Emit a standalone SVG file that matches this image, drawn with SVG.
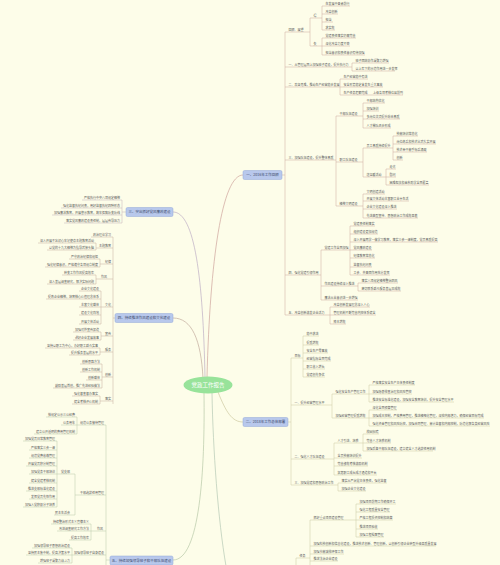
<svg xmlns="http://www.w3.org/2000/svg" width="500" height="565" viewBox="0 0 500 565">
<style>
text{font-family:"Noto Sans CJK SC","Noto Sans",sans-serif;font-size:3px;fill:#5a5a5a}
.n path{fill:none;stroke-width:.5}
.L text{text-anchor:end}
.s1 path{stroke:#cfa99c}.s2 path{stroke:#cdc8a0}.s3 path{stroke:#c2b3b8}.s4 path{stroke:#c6ac9c}.s5 path{stroke:#b8c8a8}.s6 path{stroke:#c8c8a0}
.c path{fill:none;stroke-width:.5}
.cv path{fill:none;stroke-width:.7}
.box rect{fill:#b8c8ec;stroke:#92a8d8;stroke-width:.5}
.box text{font-size:3.5px;fill:#3c4a6a;text-anchor:middle}
</style>
<rect width="500" height="565" fill="#fdfde9"/>

<g id="connectors">
<g class="cv">
<path d="M207 377C210 260 222 175 243 175" stroke="#cfa49c"/>
<path d="M205 377C203 280 195 212 173 212" stroke="#bdaec4"/>
<path d="M203 378C201 340 192 318 173 318" stroke="#c2aa9c"/>
<path d="M218 392C226 412 232 422 243 422" stroke="#cdc8a0"/>
<path d="M204 393C205 470 200 560 173 560" stroke="#b8c8a8"/>
<path d="M212 393C213 450 218 520 226 566" stroke="#b4c8b4"/>
</g>
<g class="c s1">
<path d="M282 175H285M285 32V315"/>
<path d="M310 18V46M322 6V30M322 38V55M352 63V71M340 79V95"/>
<path d="M336 116V206M363 103V128M363 148V177M393 136V160M386 169V185M363 194V218"/>
<path d="M321 250V300M350 226V275M358 283V291M330 307V324"/>
</g>
<g class="c s2">
<path d="M288 422H291M291 358V485"/>
<path d="M303 336V377M332 394V418M369 385V402M369 410V426M334 443V475M363 434V451M338 483V491"/>
</g>
<g class="c s6">
<path d="M296 558V566M310 520V566M356 504V537"/>
</g>
<g class="c s3">
<path d="M126 212H122M122 200V223"/>
</g>
<g class="c s4">
<path d="M115 318H113M113 237V404"/>
<path d="M96 243V250M100 259V267M96 275V284M101 291V324M101 332V340M100 348V355M102 364V388M100 396V404"/>
</g>
<g class="c s5">
<path d="M110 560H106M106 425V566"/>
<path d="M77 417V434M75 474V515M57 441V507M91 524V540M72 548V563"/>
</g>
</g>

<g id="center">
<ellipse cx="208" cy="385" rx="24.5" ry="8.5" fill="#98e39a"/>
<text x="208" y="387" style="font-size:5.5px;fill:#fff;text-anchor:middle">党政工作报告</text>
</g>

<g id="sec1" class="box"><rect x="243" y="170.5" width="39" height="9" rx="1.5"/><text x="262.5" y="176.3">一、2016年工作回顾</text></g>
<g id="sec2" class="box"><rect x="243" y="417.5" width="45" height="9" rx="1.5"/><text x="265.5" y="423.3">二、2018年工作总体部署</text></g>
<g id="sec3" class="box"><rect x="126" y="207.5" width="47" height="9" rx="1.5"/><text x="149.5" y="213.3">三、突出抓好党风廉政建设</text></g>
<g id="sec4" class="box"><rect x="115" y="313.5" width="58" height="9" rx="1.5"/><text x="144" y="319.3">四、持续推进作风建设和文化建设</text></g>
<g id="sec5" class="box"><rect x="110" y="556" width="63" height="9" rx="1.5"/><text x="141.5" y="561.8">五、持续加强领导班子和干部队伍建设</text></g>

<g class="n s1">
<g id="a" transform="translate(285,32)"><path d="M0 0H25"/><text x="3.5" y="-1.1">回顾、展望</text></g>
<g id="a1" transform="translate(310,18)"><path d="M0 0H12"/><text x="3.5" y="-1.1">得</text></g>
<g id="a11" transform="translate(322,6)"><path d="M0 0H28"/><text x="3.5" y="-1.1">在发展中奋勇前行</text></g>
<g id="a12" transform="translate(322,14)"><path d="M0 0H16"/><text x="3.5" y="-1.1">改革创新</text></g>
<g id="a13" transform="translate(322,22)"><path d="M0 0H11"/><text x="3.5" y="-1.1">担当</text></g>
<g id="a14" transform="translate(322,30)"><path d="M0 0H13"/><text x="3.5" y="-1.1">求实效</text></g>
<g id="a2" transform="translate(310,46)"><path d="M0 0H12"/><text x="3.5" y="-1.1">失</text></g>
<g id="a21" transform="translate(322,38)"><path d="M0 0H34"/><text x="3.5" y="-1.1">党建责任落实仍需完善</text></g>
<g id="a22" transform="translate(322,46)"><path d="M0 0H28"/><text x="3.5" y="-1.1">深化改革力度不够</text></g>
<g id="a23" transform="translate(322,55)"><path d="M0 0H43"/><text x="3.5" y="-1.1">担当意识和责任意识有待加强</text></g>
<g id="b" transform="translate(285,67)"><path d="M0 0H67"/><text x="3.5" y="-1.1">一、从管理层面上加强班子建设，提升执行力</text></g>
<g id="b1" transform="translate(352,63)"><path d="M0 0H37"/><text x="3.5" y="-1.1">班子团结协作凝聚力增强</text></g>
<g id="b2" transform="translate(352,71)"><path d="M0 0H43"/><text x="3.5" y="-1.1">以上率下的示范作用进一步发挥</text></g>
<g id="c" transform="translate(285,87)"><path d="M0 0H55"/><text x="3.5" y="-1.1">二、攻坚克难，推动生产经营稳步发展</text></g>
<g id="c1" transform="translate(340,79)"><path d="M0 0H28"/><text x="3.5" y="-1.1">生产经营稳中有进</text></g>
<g id="c2" transform="translate(340,87)"><path d="M0 0H43"/><text x="3.5" y="-1.1">安全形势稳定未发生重大事故</text></g>
<g id="c3" transform="translate(340,95)"><path d="M0 0H63"/><text x="3.5" y="-1.1">生产任务超额完成</text><text x="33" y="-1.1">上级各项考核位居前列</text></g>
<g id="d" transform="translate(285,160)"><path d="M0 0H51"/><text x="3.5" y="-1.1">三、加强队伍建设，提升整体素质</text></g>
<g id="d1" transform="translate(336,116)"><path d="M0 0H27"/><text x="3.5" y="-1.1">干部队伍建设</text></g>
<g id="d11" transform="translate(363,103)"><path d="M0 0H22"/><text x="3.5" y="-1.1">干部结构优化</text></g>
<g id="d12" transform="translate(363,111)"><path d="M0 0H16"/><text x="3.5" y="-1.1">加强培训</text></g>
<g id="d13" transform="translate(363,119)"><path d="M0 0H37"/><text x="3.5" y="-1.1">多岗位交流提升综合素质</text></g>
<g id="d14" transform="translate(363,128)"><path d="M0 0H28"/><text x="3.5" y="-1.1">人才梯队逐步形成</text></g>
<g id="d2" transform="translate(336,162)"><path d="M0 0H27"/><text x="3.5" y="-1.1">职工队伍建设</text></g>
<g id="d2a" transform="translate(363,148)"><path d="M0 0H30"/><text x="3.5" y="-1.1">员工素质持续提升</text></g>
<g id="d2a1" transform="translate(393,136)"><path d="M0 0H25"/><text x="3.5" y="-1.1">技能培训常态化</text></g>
<g id="d2a2" transform="translate(393,144)"><path d="M0 0H43"/><text x="3.5" y="-1.1">岗位练兵和技术比武扎实开展</text></g>
<g id="d2a3" transform="translate(393,152)"><path d="M0 0H34"/><text x="3.5" y="-1.1">技术骨干能手标兵涌现</text></g>
<g id="d2a4" transform="translate(393,160)"><path d="M0 0H10"/><text x="3.5" y="-1.1">创新</text></g>
<g id="d2b" transform="translate(363,177)"><path d="M0 0H23"/><text x="3.5" y="-1.1">送温暖活动</text></g>
<g id="d2b1" transform="translate(386,169)"><path d="M0 0H10"/><text x="3.5" y="-1.1">走访</text></g>
<g id="d2b2" transform="translate(386,177)"><path d="M0 0H10"/><text x="3.5" y="-1.1">慰问</text></g>
<g id="d2b3" transform="translate(386,185)"><path d="M0 0H43"/><text x="3.5" y="-1.1">困难帮扶和金秋助学全面覆盖</text></g>
<g id="d3" transform="translate(336,206)"><path d="M0 0H27"/><text x="3.5" y="-1.1">精神文明建设</text></g>
<g id="d31" transform="translate(363,194)"><path d="M0 0H22"/><text x="3.5" y="-1.1">文明创建活动</text></g>
<g id="d32" transform="translate(363,201)"><path d="M0 0H46"/><text x="3.5" y="-1.1">开展文体活动丰富职工业余生活</text></g>
<g id="d33" transform="translate(363,209)"><path d="M0 0H34"/><text x="3.5" y="-1.1">企业文化建设深入推进</text></g>
<g id="d34" transform="translate(363,218)"><path d="M0 0H55"/><text x="3.5" y="-1.1">先进典型宣传、思想政治工作成效显著</text></g>
<g id="e" transform="translate(285,275)"><path d="M0 0H36"/><text x="3.5" y="-1.1">四、强化党建引领作用</text></g>
<g id="e1" transform="translate(321,250)"><path d="M0 0H29"/><text x="3.5" y="-1.1">党建工作全面加强</text></g>
<g id="e11" transform="translate(350,226)"><path d="M0 0H25"/><text x="3.5" y="-1.1">党建责任制落实</text></g>
<g id="e12" transform="translate(350,234)"><path d="M0 0H28"/><text x="3.5" y="-1.1">组织建设更加规范</text></g>
<g id="e13" transform="translate(350,242)"><path d="M0 0H88"/><text x="3.5" y="-1.1">深入开展两学一做学习教育，落实三会一课制度，党员素质提高</text></g>
<g id="e14" transform="translate(350,250)"><path d="M0 0H22"/><text x="3.5" y="-1.1">党风廉政建设</text></g>
<g id="e15" transform="translate(350,258)"><path d="M0 0H25"/><text x="3.5" y="-1.1">纪律教育常态化</text></g>
<g id="e16" transform="translate(350,267)"><path d="M0 0H22"/><text x="3.5" y="-1.1">监督执纪问责</text></g>
<g id="e17" transform="translate(350,275)"><path d="M0 0H40"/><text x="3.5" y="-1.1">工会、共青团作用充分发挥</text></g>
<g id="e2" transform="translate(321,286)"><path d="M0 0H37"/><text x="3.5" y="-1.1">作风建设持续深入推进</text></g>
<g id="e21" transform="translate(358,283)"><path d="M0 0H40"/><text x="3.5" y="-1.1">落实八项规定精神整治四风</text></g>
<g id="e22" transform="translate(358,291)"><path d="M0 0H43"/><text x="3.5" y="-1.1">密切联系群众服务基层见成效</text></g>
<g id="e3" transform="translate(321,300)"><path d="M0 0H37"/><text x="3.5" y="-1.1">廉洁从业意识进一步增强</text></g>
<g id="f" transform="translate(285,315)"><path d="M0 0H45"/><text x="3.5" y="-1.1">五、改革创新激发企业活力</text></g>
<g id="f1" transform="translate(330,307)"><path d="M0 0H40"/><text x="3.5" y="-1.1">改革创新发展理念深入人心</text></g>
<g id="f2" transform="translate(330,315)"><path d="M0 0H46"/><text x="3.5" y="-1.1">管理机制不断完善内控体系健全</text></g>
<g id="f3" transform="translate(330,324)"><path d="M0 0H16"/><text x="3.5" y="-1.1">降本增效</text></g>
</g>

<g class="n s2">
<g id="g" transform="translate(291,358)"><path d="M0 0H12"/><text x="3.5" y="-1.1">目标</text></g>
<g id="g1" transform="translate(303,336)"><path d="M0 0H16"/><text x="3.5" y="-1.1">稳中求进</text></g>
<g id="g2" transform="translate(303,345)"><path d="M0 0H16"/><text x="3.5" y="-1.1">提质增效</text></g>
<g id="g3" transform="translate(303,353)"><path d="M0 0H25"/><text x="3.5" y="-1.1">安全生产零事故</text></g>
<g id="g4" transform="translate(303,361)"><path d="M0 0H28"/><text x="3.5" y="-1.1">经营指标全面完成</text></g>
<g id="g5" transform="translate(303,369)"><path d="M0 0H22"/><text x="3.5" y="-1.1">职工收入增长</text></g>
<g id="g6" transform="translate(303,377)"><path d="M0 0H22"/><text x="3.5" y="-1.1">党建创先争优</text></g>
<g id="h" transform="translate(291,405)"><path d="M0 0H41"/><text x="3.5" y="-1.1">一、提升经营管理水平</text></g>
<g id="h1" transform="translate(332,394)"><path d="M0 0H37"/><text x="3.5" y="-1.1">强化安全生产管理工作</text></g>
<g id="h11" transform="translate(369,385)"><path d="M0 0H46"/><text x="3.5" y="-1.1">严格落实安全生产主体责任制度</text></g>
<g id="h12" transform="translate(369,394)"><path d="M0 0H43"/><text x="3.5" y="-1.1">加强隐患排查治理和风险管控</text></g>
<g id="h13" transform="translate(369,402)"><path d="M0 0H85"/><text x="3.5" y="-1.1">推进安全标准化建设，加强安全教育培训，提升安全管理水平</text></g>
<g id="h2" transform="translate(332,418)"><path d="M0 0H37"/><text x="3.5" y="-1.1">加强经营管理提质增效</text></g>
<g id="h21" transform="translate(369,410)"><path d="M0 0H28"/><text x="3.5" y="-1.1">深化全面预算管理</text></g>
<g id="h22" transform="translate(369,418)"><path d="M0 0H115"/><text x="3.5" y="-1.1">加强成本控制，严格费用管理，推进精细化管理，深挖内部潜力，确保经营目标完成</text></g>
<g id="h23" transform="translate(369,426)"><path d="M0 0H121"/><text x="3.5" y="-1.1">强化资金管理和风险防控，加强合同管理、审计监督和内部控制，防范化解各类经营风险</text></g>
<g id="i" transform="translate(291,459)"><path d="M0 0H43"/><text x="3.5" y="-1.1">二、强化人才队伍建设</text></g>
<g id="i1" transform="translate(334,443)"><path d="M0 0H29"/><text x="3.5" y="-1.1">人才引进、培养</text></g>
<g id="i11" transform="translate(363,434)"><path d="M0 0H16"/><text x="3.5" y="-1.1">校园招聘</text></g>
<g id="i12" transform="translate(363,443)"><path d="M0 0H28"/><text x="3.5" y="-1.1">完善人才培养机制</text></g>
<g id="i13" transform="translate(363,451)"><path d="M0 0H70"/><text x="3.5" y="-1.1">加强后备干部队伍建设，建立健全人才选拔任用机制</text></g>
<g id="i2" transform="translate(334,458)"><path d="M0 0H28"/><text x="3.5" y="-1.1">全员技能培训提升</text></g>
<g id="i3" transform="translate(334,466)"><path d="M0 0H34"/><text x="3.5" y="-1.1">完善绩效考核激励机制</text></g>
<g id="i4" transform="translate(334,475)"><path d="M0 0H43"/><text x="3.5" y="-1.1">拓宽职工成长成才通道和平台</text></g>
<g id="j" transform="translate(291,485)"><path d="M0 0H47"/><text x="3.5" y="-1.1">三、加强党建和思想政治工作</text></g>
<g id="j1" transform="translate(338,483)"><path d="M0 0H49"/><text x="3.5" y="-1.1">落实从严治党主体责任，强化监督</text></g>
<g id="j2" transform="translate(338,491)"><path d="M0 0H28"/><text x="3.5" y="-1.1">加强企业文化建设</text></g>
</g>

<g class="n s6">
<g id="k" transform="translate(296,558)"><path d="M0 0H14"/><text x="3.5" y="-1.1">任务</text></g>
<g id="k1" transform="translate(310,520)"><path d="M0 0H46"/><text x="3.5" y="-1.1">抓好重点项目建设管理</text></g>
<g id="k11" transform="translate(356,504)"><path d="M0 0H40"/><text x="3.5" y="-1.1">加强项目前期工作确保开工</text></g>
<g id="k12" transform="translate(356,512)"><path d="M0 0H34"/><text x="3.5" y="-1.1">强化工程质量安全管理</text></g>
<g id="k13" transform="translate(356,520)"><path d="M0 0H37"/><text x="3.5" y="-1.1">严格工程投资控制和结算</text></g>
<g id="k14" transform="translate(356,529)"><path d="M0 0H22"/><text x="3.5" y="-1.1">推进项目验收</text></g>
<g id="k15" transform="translate(356,537)"><path d="M0 0H28"/><text x="3.5" y="-1.1">加强工程档案管理</text></g>
<g id="k2" transform="translate(310,546)"><path d="M0 0H126"/><text x="3.5" y="-1.1">加强科技创新和信息化建设，推进技术创新、管理创新，以创新引领企业转型升级高质量发展</text></g>
<g id="k3" transform="translate(310,554)"><path d="M0 0H34"/><text x="3.5" y="-1.1">加强节能减排环保工作</text></g>
<g id="k4" transform="translate(310,561)"><path d="M0 0H28"/><text x="3.5" y="-1.1">推进法治企业建设</text></g>
</g>

<g class="n L s3">
<g id="p1" transform="translate(122,200)"><path d="M0 0H-40"/><text x="-2" y="-1.1">严格执行中央八项规定精神</text></g>
<g id="p2" transform="translate(122,208)"><path d="M0 0H-61"/><text x="-2" y="-1.1">强化监督执纪问责，用好监督执纪四种形态</text></g>
<g id="p3" transform="translate(122,215)"><path d="M0 0H-70"/><text x="-2" y="-1.1">加强廉洁教育，开展警示教育，筑牢拒腐防变防线</text></g>
<g id="p4" transform="translate(122,223)"><path d="M0 0H-58"/><text x="-2" y="-1.1">落实党风廉政建设责任制，层层传导压力</text></g>
</g>

<g class="n L s4">
<g id="l1" transform="translate(113,237)"><path d="M0 0H-22"/><text x="-2" y="-1.1">政治理论学习</text></g>
<g id="l2" transform="translate(113,248)"><path d="M0 0H-17"/><text x="-2" y="-1.1">主题教育</text></g>
<g id="l21" transform="translate(96,243)"><path d="M0 0H-58"/><text x="-2" y="-1.1">深入开展不忘初心牢记使命主题教育活动</text></g>
<g id="l22" transform="translate(96,250)"><path d="M0 0H-49"/><text x="-2" y="-1.1">以党的十九大精神为指导武装头脑</text></g>
<g id="l3" transform="translate(113,264)"><path d="M0 0H-13"/><text x="-2" y="-1.1">纪律</text></g>
<g id="l31" transform="translate(100,259)"><path d="M0 0H-31"/><text x="-2" y="-1.1">严守政治纪律和规矩</text></g>
<g id="l32" transform="translate(100,267)"><path d="M0 0H-55"/><text x="-2" y="-1.1">强化纪律意识，严格遵守各项规章制度</text></g>
<g id="l4" transform="translate(113,279)"><path d="M0 0H-17"/><text x="-6" y="-1.1">作风</text></g>
<g id="l41" transform="translate(96,275)"><path d="M0 0H-34"/><text x="-2" y="-1.1">转变工作作风提高效率</text></g>
<g id="l42" transform="translate(96,284)"><path d="M0 0H-49"/><text x="-2" y="-1.1">深入基层调查研究，解决实际问题</text></g>
<g id="l5" transform="translate(113,307)"><path d="M0 0H-12"/><text x="-2" y="-1.1">文化</text></g>
<g id="l51" transform="translate(101,291)"><path d="M0 0H-22"/><text x="-2" y="-1.1">企业文化建设</text></g>
<g id="l52" transform="translate(101,299)"><path d="M0 0H-55"/><text x="-2" y="-1.1">提炼企业精神，培育核心价值理念体系</text></g>
<g id="l53" transform="translate(101,307)"><path d="M0 0H-22"/><text x="-2" y="-1.1">丰富文化载体</text></g>
<g id="l54" transform="translate(101,315)"><path d="M0 0H-22"/><text x="-2" y="-1.1">建设文化阵地</text></g>
<g id="l55" transform="translate(101,324)"><path d="M0 0H-22"/><text x="-2" y="-1.1">开展文体活动</text></g>
<g id="l6" transform="translate(113,336)"><path d="M0 0H-12"/><text x="-2" y="-1.1">宣传</text></g>
<g id="l61" transform="translate(101,332)"><path d="M0 0H-28"/><text x="-2" y="-1.1">加强对外宣传报道</text></g>
<g id="l62" transform="translate(101,340)"><path d="M0 0H-28"/><text x="-2" y="-1.1">讲好企业发展故事</text></g>
<g id="l7" transform="translate(113,352)"><path d="M0 0H-13"/><text x="-2" y="-1.1">服务</text></g>
<g id="l71" transform="translate(100,348)"><path d="M0 0H-55"/><text x="-2" y="-1.1">坚持以职工为中心，办好职工群众实事</text></g>
<g id="l72" transform="translate(100,355)"><path d="M0 0H-31"/><text x="-2" y="-1.1">提升服务基层的水平</text></g>
<g id="l8" transform="translate(113,377)"><path d="M0 0H-11"/><text x="-2" y="-1.1">创新</text></g>
<g id="l81" transform="translate(102,364)"><path d="M0 0H-22"/><text x="-2" y="-1.1">创新思路方法</text></g>
<g id="l82" transform="translate(102,372)"><path d="M0 0H-22"/><text x="-2" y="-1.1">创新工作机制</text></g>
<g id="l83" transform="translate(102,380)"><path d="M0 0H-16"/><text x="-2" y="-1.1">创新载体</text></g>
<g id="l84" transform="translate(102,388)"><path d="M0 0H-49"/><text x="-2" y="-1.1">鼓励基层首创，推广先进经验做法</text></g>
<g id="l9" transform="translate(113,401)"><path d="M0 0H-13"/><text x="-2" y="-1.1">落实</text></g>
<g id="l91" transform="translate(100,396)"><path d="M0 0H-28"/><text x="-2" y="-1.1">强化督查督办落实</text></g>
<g id="l92" transform="translate(100,404)"><path d="M0 0H-28"/><text x="-2" y="-1.1">健全考核评价机制</text></g>
</g>

<g class="n L s5">
<g id="m1" transform="translate(106,425)"><path d="M0 0H-29"/><text x="-2" y="-1.1">规范公务接待管理</text></g>
<g id="m11" transform="translate(77,417)"><path d="M0 0H-31"/><text x="-2" y="-1.1">按规定公示三公经费</text></g>
<g id="m12" transform="translate(77,425)"><path d="M0 0H-16"/><text x="-2" y="-1.1">公务用车</text></g>
<g id="m13" transform="translate(77,434)"><path d="M0 0H-43"/><text x="-2" y="-1.1">建立公开透明的费用管理机制</text></g>
<g id="m2" transform="translate(106,495)"><path d="M0 0H-31"/><text x="-2" y="-1.1">干部选拔任用管理</text></g>
<g id="m2a" transform="translate(75,474)"><path d="M0 0H-18"/><text x="-5" y="-1.1">党支部</text></g>
<g id="m2a1" transform="translate(57,441)"><path d="M0 0H-34"/><text x="-2" y="-1.1">加强党员日常教育管理</text></g>
<g id="m2a2" transform="translate(57,450)"><path d="M0 0H-28"/><text x="-2" y="-1.1">严格落实三会一课</text></g>
<g id="m2a3" transform="translate(57,458)"><path d="M0 0H-28"/><text x="-2" y="-1.1">规范党费收缴管理</text></g>
<g id="m2a4" transform="translate(57,466)"><path d="M0 0H-31"/><text x="-2" y="-1.1">开展党员积分制管理</text></g>
<g id="m2a5" transform="translate(57,474)"><path d="M0 0H-28"/><text x="-2" y="-1.1">加强党务干部培训</text></g>
<g id="m2a6" transform="translate(57,483)"><path d="M0 0H-28"/><text x="-2" y="-1.1">健全党建考核机制</text></g>
<g id="m2a7" transform="translate(57,491)"><path d="M0 0H-31"/><text x="-2" y="-1.1">推进支部标准化建设</text></g>
<g id="m2a8" transform="translate(57,499)"><path d="M0 0H-28"/><text x="-2" y="-1.1">发挥党员先锋作用</text></g>
<g id="m2a9" transform="translate(57,507)"><path d="M0 0H-34"/><text x="-2" y="-1.1">加强入党积极分子培养</text></g>
<g id="m2b" transform="translate(75,515)"><path d="M0 0H-21"/><text x="-5" y="-1.1">民主生活会</text></g>
<g id="m3" transform="translate(106,531)"><path d="M0 0H-15"/><text x="-3" y="-1.1">作风</text></g>
<g id="m31" transform="translate(91,524)"><path d="M0 0H-40"/><text x="-2" y="-1.1">持续整治形式主义官僚主义</text></g>
<g id="m32" transform="translate(91,531)"><path d="M0 0H-34"/><text x="-2" y="-1.1">改进调查研究工作方法</text></g>
<g id="m33" transform="translate(91,540)"><path d="M0 0H-22"/><text x="-2" y="-1.1">提高工作效率</text></g>
<g id="m4" transform="translate(106,555)"><path d="M0 0H-34"/><text x="-2" y="-1.1">加强领导班子自身建设</text></g>
<g id="m41" transform="translate(72,548)"><path d="M0 0H-40"/><text x="-2" y="-1.1">加强领导班子思想政治建设</text></g>
<g id="m42" transform="translate(72,555)"><path d="M0 0H-46"/><text x="-2" y="-1.1">坚持民主集中制，提高决策水平</text></g>
<g id="m43" transform="translate(72,563)"><path d="M0 0H-34"/><text x="-2" y="-1.1">增强班子凝聚力战斗力</text></g>
</g>
</svg>
